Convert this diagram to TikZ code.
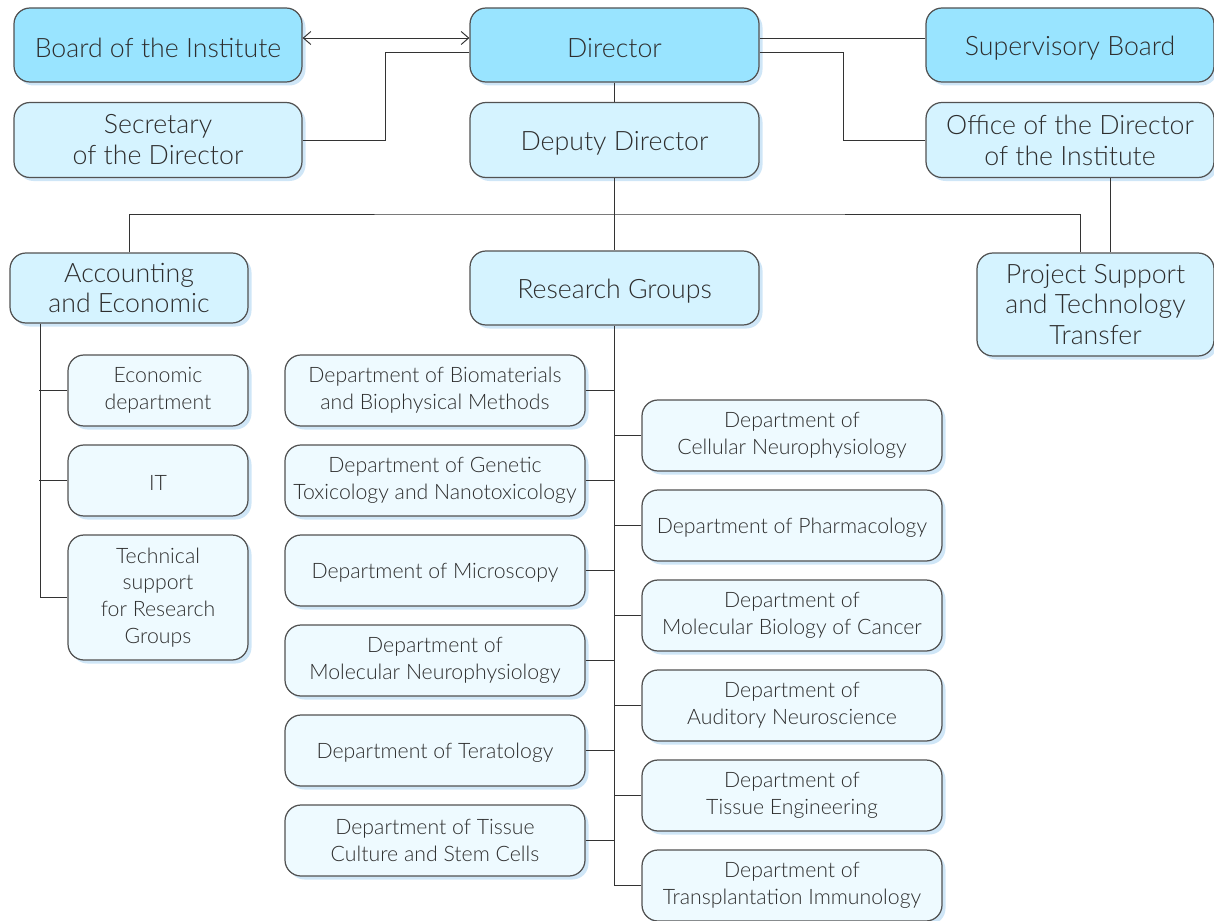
\documentclass[tikz,border=0pt]{standalone}
\usepackage{fontspec}
\setmainfont{Lato}[UprightFont={* Light}]
\usetikzlibrary{arrows.meta, shadows}
\definecolor{topc}{HTML}{99E4FF}
\definecolor{midc}{HTML}{D5F3FF}
\definecolor{lowc}{HTML}{EEFAFF}
\definecolor{shadc}{HTML}{CFE6F7}
\definecolor{linec}{HTML}{333333}
\definecolor{textc}{HTML}{2E2E2E}

\begin{document}
\begin{tikzpicture}[>={Straight Barb[length=1.5mm, width=2.6mm]},
      box/.style={draw=linec!85, line width=0.7pt, rounded corners=3.2mm, align=center, text=textc,
        inner sep=1pt, execute at begin node={\rule{0pt}{0.95em}},
        drop shadow={shadow xshift=0.07cm, shadow yshift=-0.07cm, fill=shadc, opacity=1}},
      big/.style={box, font=\fontsize{15.2}{17.6}\selectfont, minimum height=1.48cm},
      small/.style={box, fill=lowc, font=\fontsize{12.1}{15.3}\selectfont, minimum height=1.42cm, minimum width=6cm},
      wire/.style={draw=linec, line width=0.55pt}]
    \useasboundingbox (0,0) rectangle (24.28,-18.42);
    % top level
    \node[big, fill=topc, minimum width=5.76cm] (board) at (3.16,-0.9) {Board of the Institute};
    \node[big, fill=topc, minimum width=5.78cm] (dir) at (12.29,-0.9) {Director};
    \node[big, fill=topc, minimum width=5.76cm] (sup) at (21.4,-0.9) {Supervisory Board};
    \node[big, fill=midc, minimum width=5.76cm, minimum height=1.5cm] (sec) at (3.16,-2.8) {Secretary\\of the Director};
    \node[big, fill=midc, minimum width=5.78cm, minimum height=1.5cm] (dep) at (12.29,-2.8) {Deputy Director};
    \node[big, fill=midc, minimum width=5.76cm, minimum height=1.5cm] (office) at (21.4,-2.8) {Office of the Director\\of the Institute};
    % second level
    \node[big, fill=midc, minimum width=4.76cm, minimum height=1.4cm] (acc) at (2.58,-5.76) {Accounting\\and Economic};
    \node[big, fill=midc, minimum width=5.78cm] (res) at (12.29,-5.76) {Research Groups};
    \node[big, fill=midc, minimum width=4.74cm, minimum height=2.06cm] (proj) at (21.91,-6.09) {Project Support\\and Technology\\Transfer};
    % accounting units
    \node[small, minimum width=3.6cm] (econ) at (3.16,-7.81) {Economic\\department};
    \node[small, minimum width=3.6cm] (it) at (3.16,-9.61) {IT};
    \node[small, minimum width=3.6cm, minimum height=2.5cm] (tech) at (3.16,-11.95) {Technical\\support\\for Research\\Groups};
    % departments
    \foreach \name/\txt [count=\i] in {
        l1/{Department of Biomaterials\\and Biophysical Methods},
        l2/{Department of Genetic\\Toxicology and Nanotoxicology},
        l3/{Department of Microscopy},
        l4/{Department of\\Molecular Neurophysiology},
        l5/{Department of Teratology},
        l6/{Department of Tissue\\Culture and Stem Cells}}
      \node[small] (\name) at (8.7,-6.01-1.8*\i) {\txt};
    \foreach \name/\txt [count=\i] in {
        r1/{Department of\\Cellular Neurophysiology},
        r2/{Department of Pharmacology},
        r3/{Department of\\Molecular Biology of Cancer},
        r4/{Department of\\Auditory Neuroscience},
        r5/{Department of\\Tissue Engineering},
        r6/{Department of\\Transplantation Immunology}}
      \node[small] (\name) at (15.84,-6.91-1.8*\i) {\txt};
    % connectors
    \draw[wire, <->] ([yshift=0.14cm]board.east) -- ([yshift=0.14cm]dir.west);
    \draw[wire] ([yshift=0.14cm]dir.east) -- ([yshift=0.14cm]sup.west);
    \draw[wire] ([yshift=-0.14cm]dir.west) -- ++(-1.68,0) |- (sec.east);
    \draw[wire] ([yshift=-0.14cm]dir.east) -- ++(1.68,0) |- (office.west);
    \draw[wire] (dir.south) -- (dep.north);
    \draw[wire] (dep.south) -- (res.north);
    \coordinate (bus) at (12.29,-4.28);
    \draw[wire] (acc.north) |- (bus) -| ([xshift=-0.31cm]proj.north);
    \draw[wire] ([xshift=0.8cm]office.south) -- ([xshift=0.8cm]office.south |- proj.north);
    \draw[wire] ([xshift=-1.78cm]acc.south) |- (tech.west);
    \foreach \u in {econ, it}
      \draw[wire] (\u.west) -- (\u.west -| tech.west) -- ++(-0.56,0);
    \draw[wire] (res.south) -- (res.south |- r6.west);
    \foreach \d in {l1, l2, l3, l4, l5, l6}
      \draw[wire] (\d.east) -- (\d.east -| res.south);
    \foreach \d in {r1, r2, r3, r4, r5, r6}
      \draw[wire] (\d.west) -- (\d.west -| res.south);
\end{tikzpicture}
\end{document}
